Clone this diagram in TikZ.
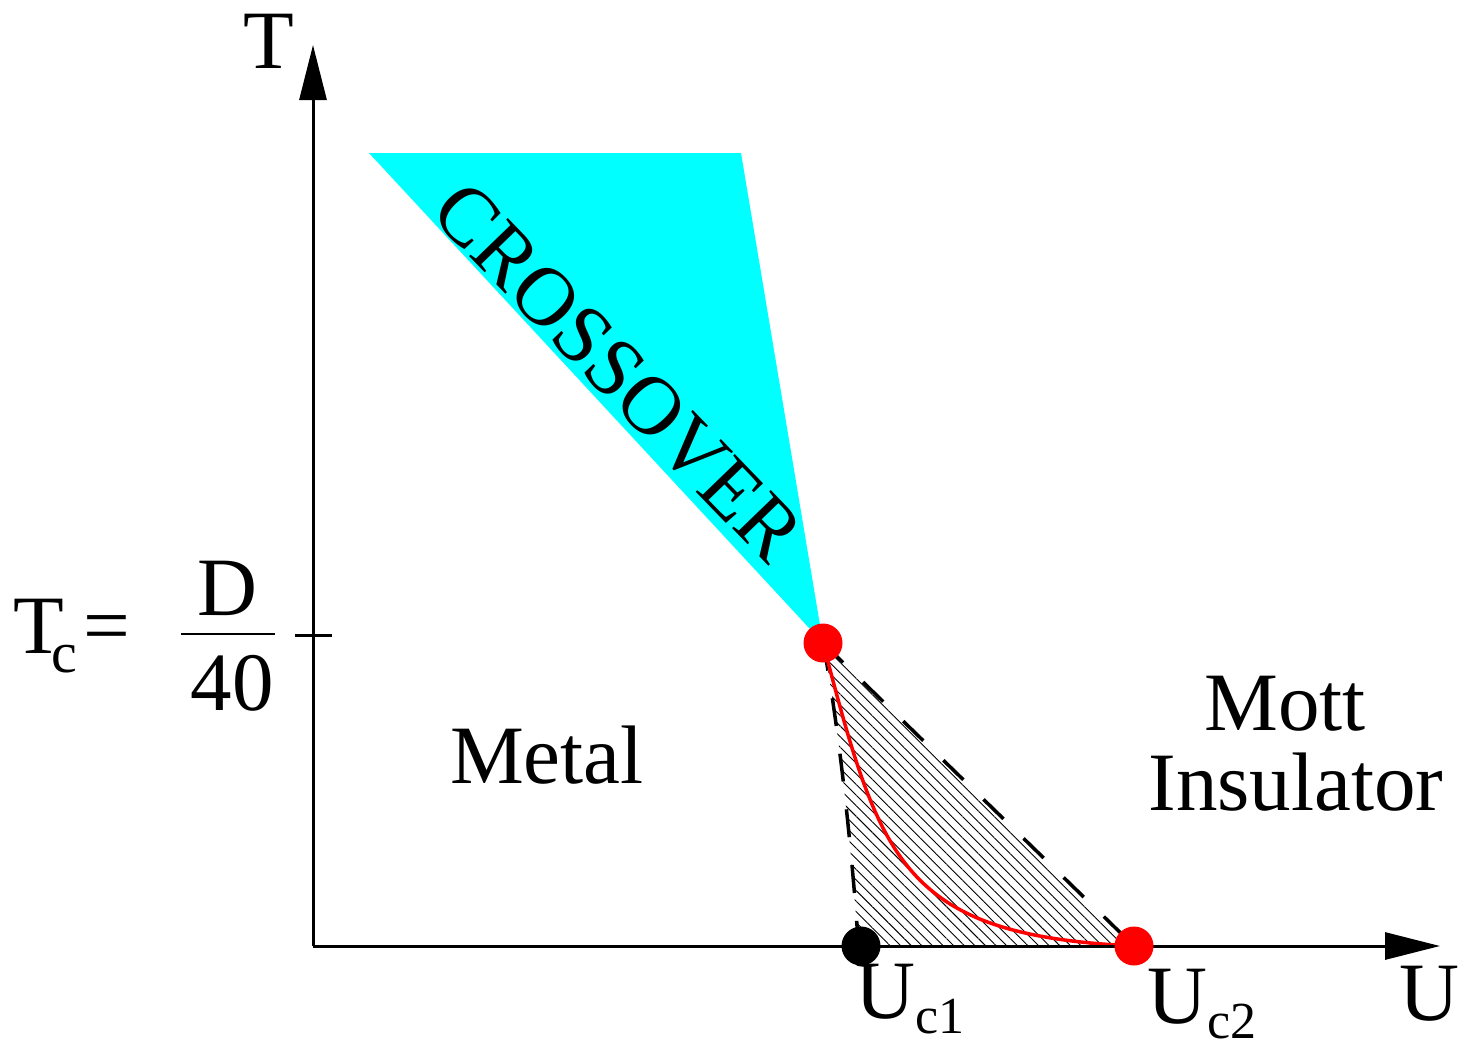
\documentclass[tikz,border=0pt]{standalone}
\usepackage{fontspec}
\setmainfont{Liberation Serif}
\usetikzlibrary{arrows.meta,patterns.meta}
\definecolor{aqua}{RGB}{0,255,255}
\newcommand{\lowsub}[1]{\raisebox{-15pt}{\fontsize{52}{52}\selectfont #1}}
\begin{document}
\begin{tikzpicture}[x=1pt,y=1pt,yscale=-1,xscale=1,
  lbl/.style={font=\fontsize{83}{83}\selectfont, inner sep=0},
  axis/.style={line width=3, -{Triangle[length=55pt,width=27pt]}},
  dashln/.style={line width=3.5, dash pattern={on 28 off 28}},
  dot/.style={circle, inner sep=0, minimum size=39}]
\useasboundingbox (0,0) rectangle (1471,1042);
\coordinate (o) at (313,946);
\coordinate (xtip) at (1440,946);
\coordinate (ytip) at (313,45);
\coordinate (pc) at (823,643);
\coordinate (pu1) at (861,946);
\coordinate (pu2) at (1134,946);
\fill [aqua] (369,153) -- (741,153) -- (pc) -- cycle;
\node [lbl, rotate=-46] (cross) at (618,372) {CROSSOVER};
\fill [pattern={Lines[angle=-45,distance=7.5pt,line width=0.9pt]}] (pc) .. controls (838,720) and (852,850) .. (858,946) -- (pu2) -- cycle;
\draw [dashln] (pc) .. controls (838,720) and (852,850) .. (858,940);
\draw [dashln] (pc) -- (pu2);
\draw [red, line width=3.5] (pc) .. controls (880,860) and (900,935) .. (pu2);
\draw [axis] (o) -- (xtip);
\draw [axis] (o) -- (ytip);
\draw [line width=3] (295,635) -- (332,635);
\node [dot, fill=red] (crit) at (pc) {};
\node [dot, fill=black] (uc1) at (pu1) {};
\node [dot, fill=red] (uc2) at (pu2) {};
\node [lbl, anchor=base] (tlab) at (269,68) {T};
\node [lbl, anchor=base] (ulab) at (1429,1020) {U};
\node [lbl, anchor=base west] (tc) at (13,653) {T\kern-12pt\raisebox{-19pt}{\fontsize{58}{58}\selectfont c}};
\node [lbl, anchor=base] (eq) at (107,653) {=};
\node [lbl, anchor=base] (num) at (227,615) {D};
\node [lbl, anchor=base] (den) at (232,710) {40};
\draw [line width=2.5] (181,634) -- (275,634);
\node [lbl, anchor=base west] (metal) at (450,783) {Metal};
\node [lbl, anchor=base] (mott) at (1285,730) {Mott};
\node [lbl, anchor=base] (insul) at (1296,810) {Insulator};
\node [lbl, anchor=base west] (lu1) at (855,1018) {U\lowsub{c1}};
\node [lbl, anchor=base west] (lu2) at (1147,1023) {U\lowsub{c2}};
\end{tikzpicture}
\end{document}
